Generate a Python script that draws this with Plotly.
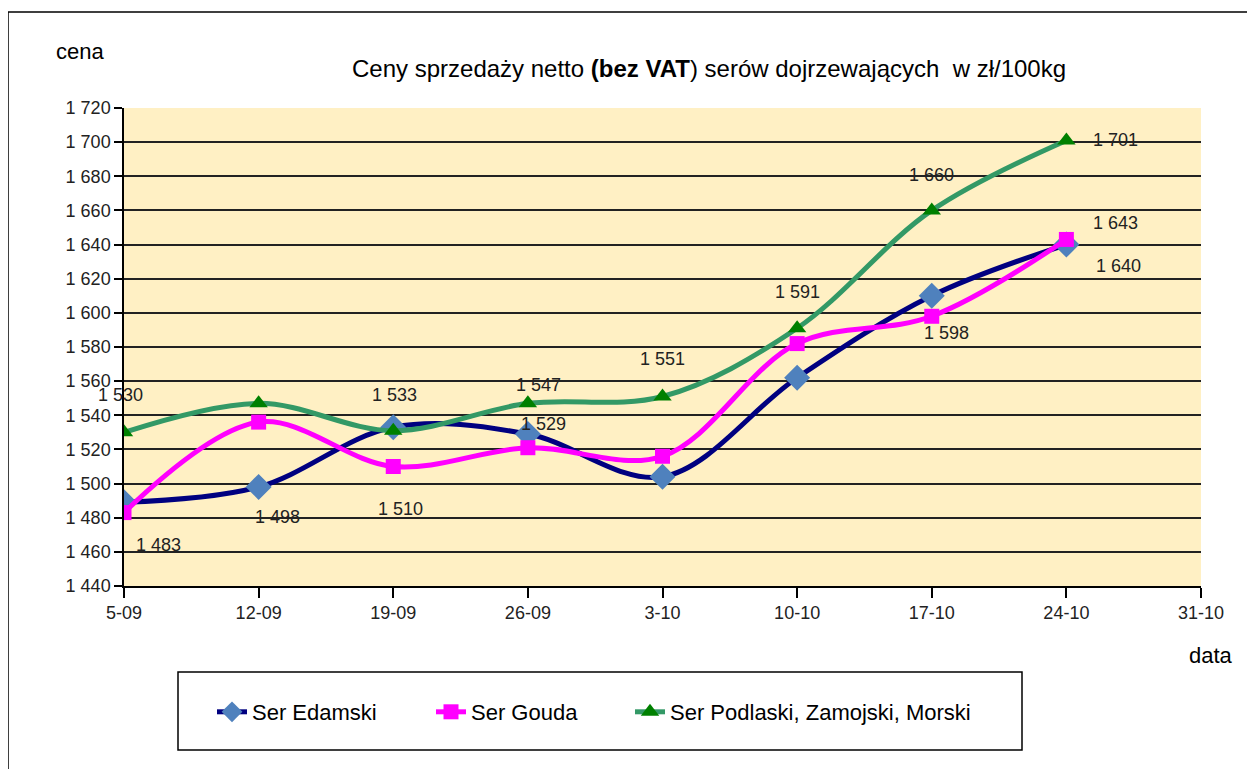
import plotly.graph_objects as go

# ---- data ----
dates = ["5-09", "12-09", "19-09", "26-09", "3-10", "10-10", "17-10", "24-10", "31-10"]
edamski = [1489, 1498, 1533, 1529, 1504, 1562, 1610, 1640]
gouda = [1483, 1536, 1510, 1521, 1516, 1582, 1598, 1643]
podlaski = [1530, 1547, 1531, 1547, 1551, 1591, 1660, 1701]
series_names = ["Ser Edamski", "Ser Gouda", "Ser Podlaski, Zamojski, Morski"]
y_ticks = list(range(1440, 1721, 20))

# ---- styling ----
FONT = "Liberation Sans"
OFF = 8  # page body margin
W, H = 1255 - OFF, 769 - OFF
# plot area in screen pixels: x 124..1201, y 108..586
L = 124 - OFF
T = 108 - OFF
R = W - (1201 - OFF)
B = H - (586 - OFF)
PW, PH = W - L - R, H - T - B

def px_x(p):
    return (p - OFF - L) / PW

def px_y(p):
    return (H - B - (p - OFF)) / PH

x_idx = list(range(len(edamski)))

styles = [
    dict(line=dict(color="#000080", width=5, shape="spline", smoothing=1),
         marker=dict(symbol="diamond", size=20, color="#4F81BD")),
    dict(line=dict(color="#FF00FF", width=5, shape="spline", smoothing=1),
         marker=dict(symbol="square", size=15, color="#FF00FF")),
    dict(line=dict(color="#339966", width=5, shape="spline", smoothing=1),
         marker=dict(symbol="triangle-up", size=16, color="#008000")),
]
all_series = [edamski, gouda, podlaski]
legend_ids = ["legend", "legend2", "legend3"]
legend_x_px = [212, 431, 630]

fig = go.Figure()
for name, vals, st, lid in zip(series_names, all_series, styles, legend_ids):
    fig.add_trace(go.Scatter(x=x_idx, y=vals, mode="lines+markers", name=name,
                             line=st["line"], marker=st["marker"], legend=lid))

# data label offsets (series index -> {point index: (xshift, yshift)})
label_offsets = {
    0: {1: (19, -30), 2: (1, 32), 3: (16, 10), 7: (52, -21)},
    1: {0: (34, -32), 2: (7, -42), 6: (15, -17), 7: (49, 16)},
    2: {0: (-4, 37), 3: (11, 18), 4: (0, 38), 5: (0, 36), 6: (0, 35), 7: (49, 0)},
}

def fmt(v):
    return f"{v:,}".replace(",", " ")

annotations = []
for si, offs in label_offsets.items():
    for pi, (dx, dy) in offs.items():
        v = all_series[si][pi]
        annotations.append(dict(x=pi, y=v, xref="x", yref="y", text=fmt(v),
                                showarrow=False, xshift=dx, yshift=dy,
                                font=dict(family=FONT, size=18, color="#222")))

annotations += [
    dict(x=px_x(80), y=px_y(52), xref="paper", yref="paper", text="cena",
         xanchor="center", yanchor="middle",
         showarrow=False, font=dict(family=FONT, size=22, color="black")),
    dict(x=px_x(1211), y=px_y(655), xref="paper", yref="paper", text="data",
         xanchor="center", yanchor="middle",
         showarrow=False, font=dict(family=FONT, size=22, color="black")),
    dict(x=px_x(709), y=px_y(68), xref="paper", yref="paper",
         text="Ceny sprzedaży netto <b>(bez VAT</b>) serów dojrzewających  w zł/100kg",
         xanchor="center", yanchor="middle",
         showarrow=False, font=dict(family=FONT, size=24, color="black")),
]

shapes = [
    dict(type="rect", xref="paper", yref="paper",
         x0=px_x(178), x1=px_x(1022), y0=px_y(750), y1=px_y(672),
         line=dict(color="black", width=1.5), fillcolor="rgba(0,0,0,0)"),
    dict(type="rect", xref="paper", yref="paper",
         x0=px_x(8), x1=px_x(1300), y0=px_y(820), y1=px_y(12),
         line=dict(color="black", width=1.5), fillcolor="rgba(0,0,0,0)"),
]

legend_common = dict(orientation="h", yanchor="middle", xanchor="left",
                     font=dict(family=FONT, size=22, color="black"),
                     bgcolor="rgba(0,0,0,0)", borderwidth=0)

layout_legends = {}
for lid, lx in zip(legend_ids, legend_x_px):
    layout_legends[lid] = dict(x=px_x(lx), y=px_y(712), **legend_common)

fig.update_layout(
    width=W, height=H,
    margin=dict(l=L, r=R, t=T, b=B, autoexpand=False),
    paper_bgcolor="white",
    plot_bgcolor="#FFF0C4",
    separators=", ",
    font=dict(family=FONT, color="black"),
    showlegend=True,
    annotations=annotations,
    shapes=shapes,
    xaxis=dict(range=[0, len(dates) - 1], tickvals=list(range(len(dates))), ticktext=dates,
               showgrid=False, zeroline=False, showline=True, linecolor="black", linewidth=1.5,
               ticks="outside", ticklen=10, tickcolor="black", tickwidth=1.5,
               tickfont=dict(family=FONT, size=18, color="#222")),
    yaxis=dict(range=[1440, 1720], tickvals=y_ticks, tickformat=",d",
               showgrid=True, gridcolor="#222", gridwidth=1.5, zeroline=False,
               showline=True, linecolor="black", linewidth=1.5,
               ticks="outside", ticklen=8, tickcolor="black", tickwidth=1.5,
               tickfont=dict(family=FONT, size=18, color="#222")),
    **layout_legends,
)

fig.write_html("out.html")
